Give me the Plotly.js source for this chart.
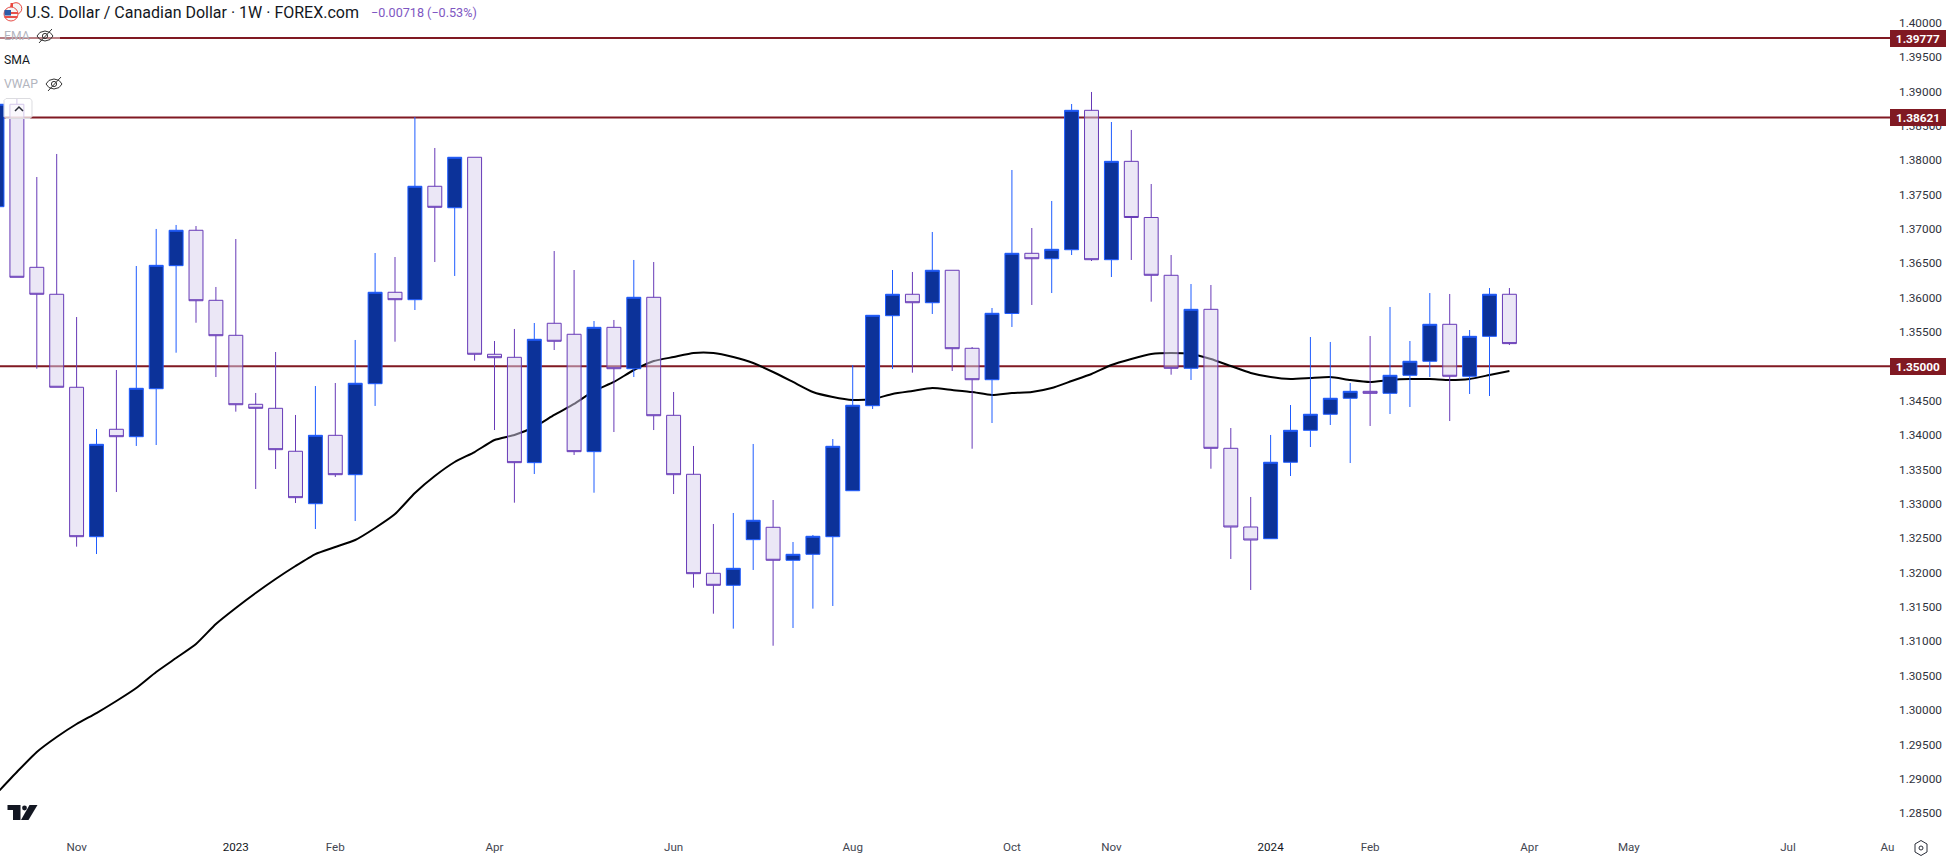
<!DOCTYPE html>
<html><head><meta charset="utf-8">
<script src="https://cdn.plot.ly/plotly-3.0.1.min.js"></script>
<style>html,body{margin:0;padding:0;background:#fff;overflow:hidden}#chart{width:1948px;height:857px}</style>
</head><body><div id="chart"></div>
<script>
const weeks = ["2022-10-10","2022-10-17","2022-10-24","2022-10-31","2022-11-07","2022-11-14","2022-11-21","2022-11-28","2022-12-05","2022-12-12","2022-12-19","2022-12-26",
"2023-01-02","2023-01-09","2023-01-16","2023-01-23","2023-01-30","2023-02-06","2023-02-13","2023-02-20","2023-02-27","2023-03-06","2023-03-13","2023-03-20","2023-03-27",
"2023-04-03","2023-04-10","2023-04-17","2023-04-24","2023-05-01","2023-05-08","2023-05-15","2023-05-22","2023-05-29","2023-06-05","2023-06-12","2023-06-19","2023-06-26",
"2023-07-03","2023-07-10","2023-07-17","2023-07-24","2023-07-31","2023-08-07","2023-08-14","2023-08-21","2023-08-28","2023-09-04","2023-09-11","2023-09-18","2023-09-25",
"2023-10-02","2023-10-09","2023-10-16","2023-10-23","2023-10-30","2023-11-06","2023-11-13","2023-11-20","2023-11-27","2023-12-04","2023-12-11","2023-12-18","2023-12-25",
"2024-01-01","2024-01-08","2024-01-15","2024-01-22","2024-01-29","2024-02-05","2024-02-12","2024-02-19","2024-02-26","2024-03-04","2024-03-11","2024-03-18","2024-03-25"];
const opens = [1.37323,1.38813,1.36441,1.36049,1.34696,1.32522,1.34085,1.33977,1.34675,1.36465,1.36980,1.35961,1.35452,1.34448,1.34390,1.33765,1.33002,1.33997,1.33424,1.34748,1.36078,1.35970,1.37620,1.37308,1.38042,1.35176,1.35132,1.33599,1.35627,1.35467,1.33759,1.35568,1.34966,1.36005,1.34288,1.33430,1.31990,1.31815,1.32479,1.32659,1.32179,1.32266,1.32522,1.33191,1.34428,1.35737,1.36049,1.35926,1.36398,1.35263,1.34806,1.35769,1.36645,1.36566,1.36697,1.38725,1.36552,1.37983,1.37166,1.36325,1.34972,1.35830,1.33808,1.32663,1.32493,1.33605,1.34070,1.34303,1.34536,1.34637,1.34608,1.34870,1.35074,1.35612,1.34856,1.35437,1.36049];
const highs = [1.38900,1.38900,1.37755,1.38090,1.35718,1.34089,1.34947,1.36460,1.36999,1.37057,1.37042,1.36155,1.36853,1.34613,1.35209,1.34293,1.34714,1.34758,1.35384,1.36649,1.36591,1.38628,1.38177,1.38042,1.38042,1.35369,1.35544,1.35631,1.36678,1.36402,1.35660,1.35675,1.36548,1.36518,1.34627,1.33842,1.32707,1.32867,1.33871,1.33056,1.32445,1.32547,1.33943,1.35020,1.35743,1.36402,1.36373,1.36955,1.36398,1.35282,1.35849,1.37857,1.37013,1.37406,1.38817,1.38992,1.38555,1.38439,1.37653,1.36620,1.36198,1.36184,1.34103,1.33100,1.34002,1.34438,1.35427,1.35355,1.34758,1.35442,1.35864,1.35369,1.36067,1.36053,1.35529,1.36140,1.36140];
const lows = [1.37200,1.36296,1.34966,1.34696,1.32377,1.32270,1.33172,1.33842,1.33856,1.35199,1.35635,1.34845,1.34341,1.33216,1.33507,1.33012,1.32634,1.33391,1.32750,1.34424,1.35359,1.35820,1.36518,1.36315,1.35083,1.34074,1.33017,1.33434,1.35238,1.33711,1.33162,1.34045,1.34845,1.34074,1.33143,1.31780,1.31402,1.31184,1.32038,1.30936,1.31194,1.31475,1.31514,1.33191,1.34380,1.34962,1.34908,1.35762,1.34933,1.33802,1.34176,1.35573,1.35893,1.36067,1.36620,1.36533,1.36300,1.36548,1.35941,1.34879,1.34802,1.33511,1.32198,1.31747,1.32493,1.33405,1.33827,1.34147,1.33594,1.34133,1.34307,1.34409,1.34845,1.34205,1.34598,1.34569,1.35311];
const closes = [1.38813,1.36296,1.36049,1.34696,1.32522,1.33866,1.33977,1.34681,1.36470,1.36980,1.35955,1.35446,1.34442,1.34390,1.33788,1.33090,1.33997,1.33424,1.34754,1.36078,1.35970,1.37620,1.37314,1.38042,1.35176,1.35126,1.33599,1.35394,1.35365,1.33759,1.35568,1.34966,1.36005,1.34282,1.33424,1.31984,1.31815,1.32062,1.32761,1.32179,1.32266,1.32528,1.33837,1.34434,1.35743,1.36049,1.35926,1.36398,1.35257,1.34806,1.35772,1.36645,1.36566,1.36703,1.38725,1.36552,1.37983,1.37166,1.36325,1.34972,1.35830,1.33808,1.32663,1.32474,1.33605,1.34070,1.34303,1.34536,1.34637,1.34608,1.34870,1.35074,1.35612,1.34856,1.35437,1.36049,1.35331];
const sma = [1.28793,1.29099,1.29390,1.29608,1.29797,1.29957,1.30132,1.30321,1.30554,1.30757,1.30961,1.31252,1.31485,1.31703,1.31907,1.32096,1.32270,1.32372,1.32474,1.32649,1.32852,1.33158,1.33405,1.33609,1.33754,1.33929,1.34002,1.34118,1.34293,1.34453,1.34642,1.34773,1.34947,1.35078,1.35136,1.35195,1.35195,1.35136,1.35049,1.34918,1.34773,1.34627,1.34554,1.34511,1.34525,1.34598,1.34642,1.34685,1.34656,1.34627,1.34584,1.34613,1.34627,1.34685,1.34787,1.34889,1.35020,1.35107,1.35180,1.35195,1.35180,1.35107,1.35005,1.34904,1.34845,1.34816,1.34831,1.34845,1.34802,1.34773,1.34802,1.34816,1.34816,1.34802,1.34816,1.34874,1.34933];
const levels = [1.39777,1.38621,1.35000];
const levelLabels = ["1.39777","1.38621","1.35000"];
const priceTicks = [1.40,1.395,1.39,1.385,1.38,1.375,1.37,1.365,1.36,1.355,1.35,1.345,1.34,1.335,1.33,1.325,1.32,1.315,1.31,1.305,1.30,1.295,1.29,1.285];
const tickDates = ["2022-11-07","2023-01-02","2023-02-06","2023-04-03","2023-06-05","2023-08-07","2023-10-02","2023-11-06","2024-01-01","2024-02-05","2024-04-01","2024-05-06","2024-07-01","2024-08-05"];
const tickLabels = ["Nov","<span style='color:#131722'>2023</span>","Feb","Apr","Jun","Aug","Oct","Nov","<span style='color:#131722'>2024</span>","Feb","Apr","May","Jul","Au"];

const W=1948,H=857,PW=1890,PH=832;
const xRange=["2022-10-11 01:20","2024-08-05 21:00"], yRange=[1.28226,1.4033];
const fx=v=>v/PW, fy=v=>1-v/PH;
const RED="#801922", FONT="Roboto, 'Liberation Sans', sans-serif";
const seg=(pts,close)=>pts.map((p,i)=>(i?"L":"M")+fx(p[0]).toFixed(5)+" "+fy(p[1]).toFixed(5)).join(" ")+(close?" Z":"");
const pathShape=(pts,close,color,fill,w)=>({type:"path",xref:"paper",yref:"paper",path:seg(pts,close),line:{color:color,width:w==null?1:w},fillcolor:fill||"rgba(0,0,0,0)",layer:"above"});
const circle=(cx,cy,r,color,fill,w)=>({type:"circle",xref:"paper",yref:"paper",x0:fx(cx-r),x1:fx(cx+r),y0:fy(cy+r),y1:fy(cy-r),line:{color:color,width:w==null?1:w},fillcolor:fill,layer:"above"});
const rect=(x0,y0,x1,y1,fill,color)=>({type:"rect",xref:"paper",yref:"paper",x0:fx(x0),x1:fx(x1),y0:fy(y1),y1:fy(y0),fillcolor:fill,line:{color:color||"rgba(0,0,0,0)",width:color?1:0},layer:"above"});
const eye=(cx,cy)=>{
  const pts=[[-8,0],[-5,-3.6],[0,-5],[5,-3.6],[8,0],[5,3.6],[0,5],[-5,3.6]].map(p=>[cx+p[0],cy+p[1]]);
  return [pathShape(pts,true,"#333"),circle(cx,cy,2.6,"#333","rgba(0,0,0,0)"),pathShape([[cx-6,cy+7],[cx+7,cy-7]],false,"#333")];
};

const shapes=[];
levels.forEach(v=>shapes.push({type:"line",xref:"paper",yref:"y",x0:0,x1:1,y0:v,y1:v,line:{color:RED,width:2},layer:"below"}));
shapes.push(rect(0,29,60,45,"rgba(255,255,255,0.45)"));
// flag
shapes.push(circle(16,8.5,5.8,"#e8453c","#f5f5f5"));
shapes.push(rect(10.5,3,13,14,"#e8453c"));
shapes.push(circle(11,14,7,"#e8504a","#f6f6f6"));
shapes.push(rect(4.5,12,18,14,"#e8504a"));
shapes.push(rect(4.5,16,17.5,18,"#e8504a"));
shapes.push(rect(4.5,10,11,15.5,"#2c5ca8"));
shapes.push(...eye(45,36),...eye(54,84));
// collapse button
shapes.push({type:"path",xref:"paper",yref:"paper",path:seg([[6,98.5],[30,98.5],[32,100.5],[32,116.5],[30,118.5],[6,118.5],[4,116.5],[4,100.5]],true),fillcolor:"rgba(255,255,255,0.72)",line:{color:"#dcdce0",width:1},layer:"above"});
shapes.push(pathShape([[15,111],[19,107],[23,111]],false,"#2a2e39","rgba(0,0,0,0)",1.5));
// watermark logo
shapes.push(pathShape([[7.5,805],[20.5,805],[20.5,820],[13,820],[13,810],[7.5,810]],true,"#131722","#131722",0));
shapes.push(circle(24.5,808,2.4,"#131722","#131722",0));
shapes.push(pathShape([[29.5,805],[37.5,805],[28.5,820],[21,820]],true,"#131722","#131722",0));
// settings icon
shapes.push(pathShape([[1921,840.5],[1927,844],[1927,852],[1921,855.5],[1915,852],[1915,844]],true,"#2a2e39"));
shapes.push(circle(1921,848,2,"#2a2e39","rgba(0,0,0,0)"));

const note=(text,x,y,size,color,extra)=>Object.assign({xref:"paper",yref:"paper",x:fx(x),y:fy(y),xanchor:"left",yanchor:"middle",text:text,showarrow:false,font:{family:FONT,size:size,color:color},borderpad:0,borderwidth:0},extra||{});
const annotations=[
  note("U.S. Dollar / Canadian Dollar · 1W · FOREX.com",26,12.5,16,"#131722"),
  note("−0.00718 (−0.53%)",371,12.5,12.6,"#7e57c2"),
  note("EMA",4,36,12.2,"#b2b5be"),
  note("SMA",4,60.5,12.2,"#131722"),
  note("VWAP",4,84,12.2,"#b2b5be")
];
levels.forEach((v,i)=>annotations.push({xref:"paper",yref:"y",x:1.0,y:v,xanchor:"left",yanchor:"middle",text:"<b>"+levelLabels[i]+"</b>",showarrow:false,width:56,height:17,bgcolor:RED,font:{family:FONT,size:11.8,color:"#fff"},align:"center",borderpad:0,borderwidth:0}));

const traces=[
  {type:"scatter",mode:"lines",x:weeks,y:sma,xaxis:"x",yaxis:"y",line:{color:"#000",width:2,shape:"spline",smoothing:0.5},hoverinfo:"skip",showlegend:false},
  {type:"candlestick",x:weeks,open:opens,high:highs,low:lows,close:closes,xaxis:"x2",yaxis:"y2",whiskerwidth:0,
   increasing:{line:{color:"#1f5cff",width:1},fillcolor:"#0c3299"},
   decreasing:{line:{color:"#673ab7",width:1},fillcolor:"rgba(215,207,237,0.5)"},hoverinfo:"skip",showlegend:false}
];
const layout={width:W,height:H,margin:{l:0,r:W-PW,t:0,b:H-PH,pad:0},paper_bgcolor:"#fff",plot_bgcolor:"#fff",showlegend:false,font:{family:FONT},boxgap:0.3,boxgroupgap:0,
  xaxis:{type:"date",range:xRange,showgrid:false,zeroline:false,showline:false,ticks:"",tickmode:"array",tickvals:tickDates,ticktext:tickLabels,tickfont:{family:FONT,size:11.6,color:"#434651"},tickangle:0,rangeslider:{visible:false},ticklabelstandoff:6,fixedrange:true},
  yaxis:{range:yRange,side:"right",showgrid:false,zeroline:false,showline:false,ticks:"",tickmode:"array",tickvals:priceTicks,ticktext:priceTicks.map(v=>v.toFixed(5)),tickfont:{family:FONT,size:11.8,color:"#2f323c"},ticklabelstandoff:8,fixedrange:true},
  xaxis2:{type:"date",overlaying:"x",range:xRange,visible:false,rangeslider:{visible:false},fixedrange:true},
  yaxis2:{overlaying:"y",side:"right",range:yRange,visible:false,fixedrange:true},
  shapes:shapes,annotations:annotations};
Plotly.newPlot("chart",traces,layout,{displayModeBar:false,staticPlot:true});
</script></body></html>
